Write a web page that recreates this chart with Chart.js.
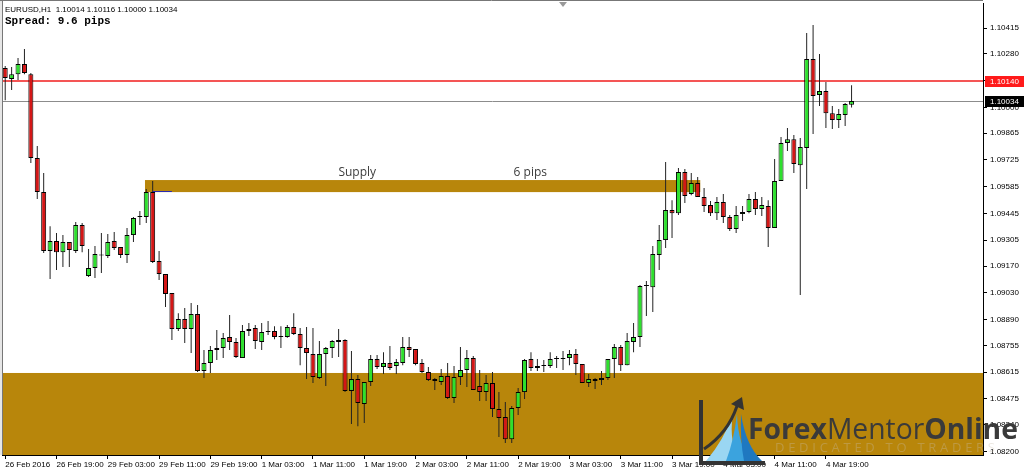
<!DOCTYPE html>
<html>
<head>
<meta charset="utf-8">
<script src="https://cdn.jsdelivr.net/npm/chart.js@4.4.1/dist/chart.umd.min.js"></script>
<style>
  html, body { margin: 0; padding: 0; background: #fff; }
  #wrap { width: 1024px; height: 471px; position: relative; }
</style>
</head>
<body>
<div id="wrap"><canvas id="c" width="1024" height="471"></canvas></div>
<script>
// EURUSD H1, 26 Feb 11:00 .. 4 Mar 23:00 (133 bars)
const opens = [
  1.10206, 1.10148, 1.10174, 1.10227, 1.10174, 1.09735, 1.09557, 1.09249, 1.09301, 1.09243,
  1.09296, 1.09249, 1.09385, 1.09118, 1.09160, 1.09228, 1.09223, 1.09301, 1.09270, 1.09228,
  1.09332, 1.09427, 1.09427, 1.09557, 1.09196, 1.09128, 1.09029, 1.08841, 1.08893, 1.08841,
  1.08919, 1.08621, 1.08663, 1.08731, 1.08741, 1.08799, 1.08773, 1.08689, 1.08830, 1.08846,
  1.08773, 1.08825, 1.08830, 1.08799, 1.08799, 1.08851, 1.08815, 1.08741, 1.08710, 1.08585,
  1.08710, 1.08741, 1.08773, 1.08783, 1.08517, 1.08579, 1.08449, 1.08564, 1.08684, 1.08642,
  1.08663, 1.08647, 1.08663, 1.08747, 1.08736, 1.08663, 1.08616, 1.08579, 1.08564, 1.08595,
  1.08480, 1.08590, 1.08626, 1.08689, 1.08543, 1.08511, 1.08558, 1.08422, 1.08381, 1.08265,
  1.08428, 1.08511, 1.08684, 1.08637, 1.08647, 1.08647, 1.08684, 1.08684, 1.08689, 1.08710,
  1.08658, 1.08558, 1.08579, 1.08574, 1.08585, 1.08684, 1.08747, 1.08652, 1.08773, 1.08799,
  1.09066, 1.09060, 1.09228, 1.09306, 1.09463, 1.09447, 1.09662, 1.09547, 1.09604, 1.09531,
  1.09489, 1.09447, 1.09505, 1.09427, 1.09364, 1.09442, 1.09453, 1.09521, 1.09468, 1.09484,
  1.09369, 1.09615, 1.09814, 1.09834, 1.09698, 1.09787, 1.10253, 1.10065, 1.10086, 1.09970,
  1.09934, 1.09960, 1.10014
];
const highs = [
  1.10216, 1.10211, 1.10258, 1.10305, 1.10180, 1.09798, 1.09657, 1.09379, 1.09343, 1.09332,
  1.09296, 1.09400, 1.09395, 1.09259, 1.09275, 1.09343, 1.09338, 1.09348, 1.09270, 1.09369,
  1.09427, 1.09458, 1.09573, 1.09615, 1.09249, 1.09128, 1.09029, 1.08924, 1.08951, 1.08977,
  1.08966, 1.08731, 1.08752, 1.08836, 1.08820, 1.08914, 1.08794, 1.08862, 1.08872, 1.08862,
  1.08872, 1.08883, 1.08856, 1.08856, 1.08862, 1.08924, 1.08846, 1.08851, 1.08846, 1.08778,
  1.08747, 1.08783, 1.08841, 1.08788, 1.08726, 1.08600, 1.08564, 1.08705, 1.08705, 1.08720,
  1.08752, 1.08684, 1.08799, 1.08799, 1.08736, 1.08684, 1.08642, 1.08585, 1.08632, 1.08663,
  1.08647, 1.08747, 1.08731, 1.08700, 1.08626, 1.08600, 1.08616, 1.08511, 1.08459, 1.08438,
  1.08532, 1.08684, 1.08720, 1.08684, 1.08679, 1.08720, 1.08700, 1.08726, 1.08731, 1.08736,
  1.08658, 1.08605, 1.08585, 1.08621, 1.08684, 1.08762, 1.08757, 1.08820, 1.08872, 1.09071,
  1.09092, 1.09275, 1.09385, 1.09714, 1.09515, 1.09683, 1.09678, 1.09657, 1.09636, 1.09578,
  1.09510, 1.09531, 1.09547, 1.09437, 1.09484, 1.09484, 1.09547, 1.09557, 1.09531, 1.09515,
  1.09730, 1.09845, 1.09892, 1.09855, 1.09840, 1.10389, 1.10431, 1.10279, 1.10133, 1.10007,
  1.09991, 1.10023, 1.10116
];
const lows = [
  1.10038, 1.10091, 1.10143, 1.10174, 1.09709, 1.09521, 1.09238, 1.09102, 1.09149, 1.09165,
  1.09165, 1.09238, 1.09243, 1.09113, 1.09108, 1.09134, 1.09212, 1.09254, 1.09212, 1.09186,
  1.09296, 1.09385, 1.09395, 1.09186, 1.09097, 1.08956, 1.08783, 1.08830, 1.08768, 1.08715,
  1.08616, 1.08585, 1.08611, 1.08679, 1.08689, 1.08731, 1.08689, 1.08689, 1.08804, 1.08736,
  1.08731, 1.08809, 1.08788, 1.08741, 1.08795, 1.08809, 1.08652, 1.08579, 1.08558, 1.08579,
  1.08543, 1.08689, 1.08694, 1.08511, 1.08344, 1.08333, 1.08349, 1.08543, 1.08632, 1.08605,
  1.08626, 1.08605, 1.08652, 1.08694, 1.08652, 1.08611, 1.08569, 1.08522, 1.08548, 1.08475,
  1.08454, 1.08548, 1.08537, 1.08522, 1.08464, 1.08464, 1.08381, 1.08276, 1.08245, 1.08245,
  1.08391, 1.08475, 1.08621, 1.08621, 1.08616, 1.08637, 1.08637, 1.08626, 1.08652, 1.08600,
  1.08558, 1.08537, 1.08527, 1.08548, 1.08574, 1.08585, 1.08621, 1.08652, 1.08720, 1.08747,
  1.08909, 1.08930, 1.09149, 1.09264, 1.09317, 1.09437, 1.09500, 1.09541, 1.09531, 1.09453,
  1.09432, 1.09411, 1.09395, 1.09353, 1.09343, 1.09406, 1.09447, 1.09437, 1.09432, 1.09270,
  1.09369, 1.09615, 1.09772, 1.09657, 1.09019, 1.09573, 1.09861, 1.10007, 1.09892, 1.09887,
  1.09892, 1.09903, 1.10000
];
const closes = [
  1.10154, 1.10174, 1.10227, 1.10180, 1.09735, 1.09557, 1.09249, 1.09301, 1.09243, 1.09296,
  1.09254, 1.09385, 1.09275, 1.09160, 1.09233, 1.09226, 1.09296, 1.09264, 1.09228, 1.09332,
  1.09421, 1.09429, 1.09557, 1.09191, 1.09128, 1.09024, 1.08841, 1.08893, 1.08841, 1.08919,
  1.08621, 1.08663, 1.08731, 1.08741, 1.08794, 1.08773, 1.08694, 1.08830, 1.08841, 1.08778,
  1.08825, 1.08830, 1.08799, 1.08801, 1.08851, 1.08815, 1.08741, 1.08715, 1.08590, 1.08710,
  1.08741, 1.08778, 1.08783, 1.08517, 1.08579, 1.08454, 1.08564, 1.08684, 1.08642, 1.08663,
  1.08637, 1.08668, 1.08747, 1.08731, 1.08658, 1.08616, 1.08574, 1.08569, 1.08595, 1.08480,
  1.08590, 1.08626, 1.08689, 1.08522, 1.08511, 1.08558, 1.08422, 1.08375, 1.08265, 1.08428,
  1.08511, 1.08679, 1.08637, 1.08647, 1.08649, 1.08684, 1.08686, 1.08689, 1.08710, 1.08658,
  1.08558, 1.08579, 1.08569, 1.08585, 1.08684, 1.08747, 1.08652, 1.08778, 1.08799, 1.09066,
  1.09068, 1.09233, 1.09306, 1.09463, 1.09447, 1.09662, 1.09536, 1.09604, 1.09531, 1.09484,
  1.09447, 1.09505, 1.09427, 1.09364, 1.09437, 1.09453, 1.09521, 1.09468, 1.09489, 1.09369,
  1.09615, 1.09814, 1.09834, 1.09704, 1.09793, 1.10253, 1.10059, 1.10086, 1.09970, 1.09934,
  1.09965, 1.10018, 1.10034
];

// one tick every 8 bars starting at bar 0
const tickLabels = [
  '26 Feb 2016', '26 Feb 19:00', '29 Feb 03:00', '29 Feb 11:00', '29 Feb 19:00',
  '1 Mar 03:00', '1 Mar 11:00', '1 Mar 19:00', '2 Mar 03:00', '2 Mar 11:00',
  '2 Mar 19:00', '3 Mar 03:00', '3 Mar 11:00', '3 Mar 19:00', '4 Mar 03:00',
  '4 Mar 11:00', '4 Mar 19:00'
];
const priceTicks = [
  1.10415, 1.10280, 1.10140, 1.10000, 1.09865, 1.09725, 1.09585, 1.09445, 1.09305,
  1.09170, 1.09030, 1.08890, 1.08755, 1.08615, 1.08475, 1.08340, 1.08200
];

// zones / lines (bar index, price)
const supplyBars = [21.8, 108.4];
const supplyPrices = [1.09557, 1.09620];
const demandTop = 1.08611;
const askLine = 1.10140;
const bidLine = 1.10034;
const highMarkBars = [23, 26];
const supplyLabels = [['Supply', 54.9], ['6 pips', 81.9]];

const totalSlots = 153; // chart shift leaves empty space on the right
const slots = Array.from({ length: totalSlots }, (_, i) => i);

const wickData = lows.map((l, i) => [l, highs[i]]);
const bodyData = opens.map((o, i) => [o, closes[i]]);
const bodyColors = opens.map((o, i) => closes[i] >= o ? '#2ee02e' : '#d41616');

const AXIS_FONT = '8px "Liberation Sans", Arial, sans-serif';

function drawLogo(ctx) {
  ctx.save();
  // blue swooshes
  ctx.fillStyle = '#9ad6f2';
  ctx.beginPath();
  ctx.moveTo(706, 461);
  ctx.quadraticCurveTo(724, 440, 733, 414);
  ctx.quadraticCurveTo(728, 445, 742, 461);
  ctx.closePath(); ctx.fill();
  ctx.fillStyle = '#3ba3de';
  ctx.beginPath();
  ctx.moveTo(726, 461);
  ctx.quadraticCurveTo(734, 440, 737, 414);
  ctx.quadraticCurveTo(738, 446, 752, 461);
  ctx.closePath(); ctx.fill();
  ctx.fillStyle = '#1f78c0';
  ctx.beginPath();
  ctx.moveTo(744, 461);
  ctx.quadraticCurveTo(740, 440, 741, 414);
  ctx.quadraticCurveTo(746, 446, 762, 461);
  ctx.closePath(); ctx.fill();
  // L bracket
  ctx.fillStyle = '#333';
  ctx.fillRect(699, 400, 4, 65);
  ctx.fillRect(699, 461, 66, 4);
  // arrow
  ctx.strokeStyle = '#333';
  ctx.lineWidth = 3;
  ctx.beginPath();
  ctx.moveTo(704, 449);
  ctx.quadraticCurveTo(728, 433, 737, 406);
  ctx.stroke();
  ctx.fillStyle = '#333';
  ctx.beginPath();
  ctx.moveTo(742, 397);
  ctx.lineTo(744, 410);
  ctx.lineTo(731, 404);
  ctx.closePath(); ctx.fill();

  // brand text
  const parts = [['Forex', 'bold'], ['Mentor', 'normal'], ['Online', 'bold']];
  const fam = '"Open Sans", "Noto Sans", sans-serif';
  let size = 30;
  const widthAt = s => parts.reduce((w, p) => { ctx.font = `${p[1]} ${s}px ${fam}`; return w + ctx.measureText(p[0]).width; }, 0);
  size = size * 270 / widthAt(size);
  let x = 748;
  ctx.fillStyle = '#3a3a3a';
  ctx.textBaseline = 'alphabetic';
  ctx.textAlign = 'left';
  parts.forEach(p => {
    ctx.font = `${p[1]} ${size}px ${fam}`;
    ctx.fillText(p[0], x, 439);
    x += ctx.measureText(p[0]).width;
  });

  // tagline with wide letter spacing
  const tag = 'DEDICATED TO TRADERS';
  ctx.font = `13px ${fam}`;
  ctx.fillStyle = 'rgba(200, 190, 170, 0.35)';
  const raw = [...tag].reduce((w, ch) => w + ctx.measureText(ch).width, 0);
  const gap = (220 - raw) / (tag.length - 1);
  let tx = 775;
  [...tag].forEach(ch => {
    ctx.fillText(ch, tx, 452);
    tx += ctx.measureText(ch).width + gap;
  });
  ctx.restore();
}

const decor = {
  id: 'decor',
  beforeDatasetsDraw(chart) {
    const { ctx, chartArea: a, scales: { x, y } } = chart;
    ctx.save();
    ctx.beginPath();
    ctx.rect(a.left, a.top, a.right - a.left, a.bottom - a.top);
    ctx.clip();

    // demand rectangle
    ctx.fillStyle = '#b8860b';
    const dTop = y.getPixelForValue(demandTop);
    ctx.fillRect(a.left, dTop, a.right - a.left, a.bottom - dTop);

    // supply rectangle
    const sx0 = x.getPixelForValue(supplyBars[0]);
    const sx1 = x.getPixelForValue(supplyBars[1]);
    const sTop = y.getPixelForValue(supplyPrices[1]);
    const sBot = y.getPixelForValue(supplyPrices[0]);
    ctx.fillRect(sx0, sTop, sx1 - sx0, sBot - sTop);

    ctx.font = '12px "Open Sans", "Noto Sans", sans-serif';
    ctx.fillStyle = '#3c3c3c';
    ctx.textAlign = 'center';
    ctx.textBaseline = 'alphabetic';
    supplyLabels.forEach(([t, b]) => ctx.fillText(t, x.getPixelForValue(b), sTop - 4));

    // price lines
    ctx.lineWidth = 1.5;
    ctx.strokeStyle = '#f01c1c';
    let py = Math.round(y.getPixelForValue(askLine));
    ctx.beginPath(); ctx.moveTo(a.left, py); ctx.lineTo(a.right, py); ctx.stroke();
    ctx.lineWidth = 1;
    ctx.strokeStyle = '#8c8c8c';
    py = Math.round(y.getPixelForValue(bidLine)) + 0.5;
    ctx.beginPath(); ctx.moveTo(a.left, py); ctx.lineTo(a.right, py); ctx.stroke();
    ctx.restore();
  },
  afterDatasetsDraw(chart) {
    const { ctx, scales: { x, y } } = chart;
    ctx.save();
    ctx.strokeStyle = '#2a2ab0';
    ctx.lineWidth = 1;
    const hy = Math.round(y.getPixelForValue(supplyPrices[0])) - 0.5;
    ctx.beginPath();
    ctx.moveTo(x.getPixelForValue(highMarkBars[0]), hy);
    ctx.lineTo(x.getPixelForValue(highMarkBars[1]), hy);
    ctx.stroke();
    ctx.restore();
  },
  afterDraw(chart) {
    const { ctx, chartArea: a, scales: { y }, width } = chart;
    ctx.save();
    // frame
    ctx.fillStyle = '#e6e6e6';
    ctx.fillRect(0, 0, 2, a.bottom);
    ctx.strokeStyle = '#777';
    ctx.lineWidth = 1;
    ctx.beginPath();
    ctx.moveTo(2.5, 0); ctx.lineTo(2.5, a.bottom);
    ctx.moveTo(0, 0.5); ctx.lineTo(a.right, 0.5);
    ctx.stroke();
    // chart shift marker
    ctx.fillStyle = '#999';
    ctx.beginPath();
    ctx.moveTo(559, 2); ctx.lineTo(567, 2); ctx.lineTo(563, 7);
    ctx.closePath(); ctx.fill();

    // price boxes on the axis
    ctx.font = AXIS_FONT;
    ctx.textBaseline = 'middle';
    ctx.textAlign = 'left';
    [[askLine, '#ff1a1a'], [bidLine, '#000']].forEach(([v, bg]) => {
      const py = Math.round(y.getPixelForValue(v));
      ctx.fillStyle = bg;
      ctx.fillRect(a.right + 2, py - 5, width - a.right - 2, 11);
      ctx.fillStyle = '#fff';
      ctx.fillText(v.toFixed(5), a.right + 7, py + 0.5);
    });

    // header
    ctx.fillStyle = '#000';
    ctx.textBaseline = 'alphabetic';
    ctx.fillText('EURUSD,H1  1.10014 1.10116 1.10000 1.10034', 5, 11.5);
    ctx.font = 'bold 11px "Liberation Mono", "Courier New", monospace';
    ctx.fillText('Spread: 9.6 pips', 5, 23.5);
    ctx.restore();

    drawLogo(ctx);
  }
};

new Chart(document.getElementById('c'), {
  type: 'bar',
  data: {
    labels: slots,
    datasets: [
      {
        label: 'body',
        data: bodyData,
        backgroundColor: bodyColors,
        borderColor: '#000',
        borderWidth: 1,
        borderSkipped: false,
        inflateAmount: 0,
        barThickness: 5,
        minBarLength: 1,
        grouped: false,
        order: 0
      },
      {
        label: 'wick',
        data: wickData,
        backgroundColor: '#222',
        borderWidth: 0,
        inflateAmount: 0,
        barThickness: 1,
        grouped: false,
        order: 1
      }
    ]
  },
  options: {
    responsive: false,
    animation: false,
    layout: { padding: { left: 2, top: 3, right: 0, bottom: 0 } },
    plugins: { legend: { display: false }, tooltip: { enabled: false } },
    scales: {
      x: {
        type: 'category',
        offset: true,
        grid: { display: true, drawOnChartArea: false, drawTicks: true, tickLength: 4, tickColor: '#000', offset: false },
        border: { display: true, color: '#000' },
        ticks: {
          autoSkip: false, maxRotation: 0, minRotation: 0, align: 'start', padding: 1,
          color: '#000', font: { family: '"Liberation Sans", Arial, sans-serif', size: 8 },
          callback: v => tickLabels[v / 8]
        },
        afterBuildTicks: s => { s.ticks = tickLabels.map((_, k) => ({ value: k * 8 })); },
        afterFit: s => { s.height = 16; s.paddingLeft = 0; s.paddingRight = 0; }
      },
      y: {
        position: 'right',
        min: 1.08182,
        max: 1.10546,
        grid: { display: true, drawOnChartArea: false, drawTicks: true, tickLength: 4, tickColor: '#000' },
        border: { display: true, color: '#000' },
        ticks: {
          padding: 3, color: '#000',
          font: { family: '"Liberation Sans", Arial, sans-serif', size: 8 },
          callback: v => Number(v).toFixed(5)
        },
        afterBuildTicks: s => { s.ticks = priceTicks.map(v => ({ value: v })); },
        afterFit: s => { s.width = 41; s.paddingTop = 0; s.paddingBottom = 0; }
      }
    }
  },
  plugins: [decor]
});
</script>
</body>
</html>
